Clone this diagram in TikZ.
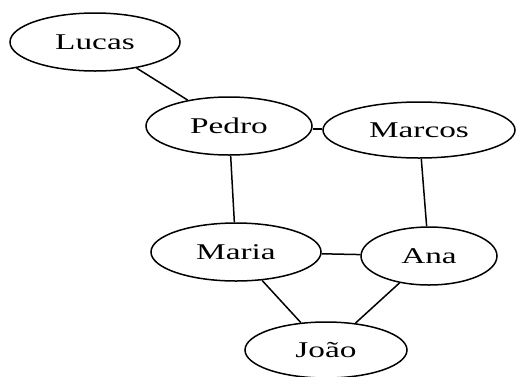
\documentclass[tikz,border=0pt]{standalone}
\usepackage{fontspec}
\setmainfont[FakeStretch=1.48]{Liberation Serif}
\usetikzlibrary{shapes.geometric}
\begin{document}
\begin{tikzpicture}[x=1pt,y=-1pt,
  person/.style={draw, ellipse, line width=1.5pt, inner sep=0pt,
    font=\fontsize{22.5}{26}\selectfont},
  link/.style={line width=1.5pt}]
\useasboundingbox (0,0) rectangle (517,376);
\node[person, minimum width=170pt, minimum height=58pt] (lucas)  at (95,42)   {Lucas};
\node[person, minimum width=166pt, minimum height=58pt] (pedro)  at (229,126) {Pedro};
\node[person, minimum width=192pt, minimum height=56pt] (marcos) at (419,130) {Marcos};
\node[person, minimum width=170pt, minimum height=58pt] (maria)  at (236,252) {Maria};
\node[person, minimum width=136pt, minimum height=58pt] (ana)    at (429,256) {Ana};
\node[person, minimum width=162pt, minimum height=56pt] (joao)   at (326,350) {João};
\draw[link] (lucas) -- (pedro);
\draw[link] (pedro) -- (maria);
\draw[link] (pedro.east |- 0,129) -- (marcos.west |- 0,129);
\draw[link] (marcos) -- (ana);
\draw[link] (maria) -- (ana);
\draw[link] (maria) -- (joao);
\draw[link] (ana) -- (joao);
\end{tikzpicture}
\end{document}
